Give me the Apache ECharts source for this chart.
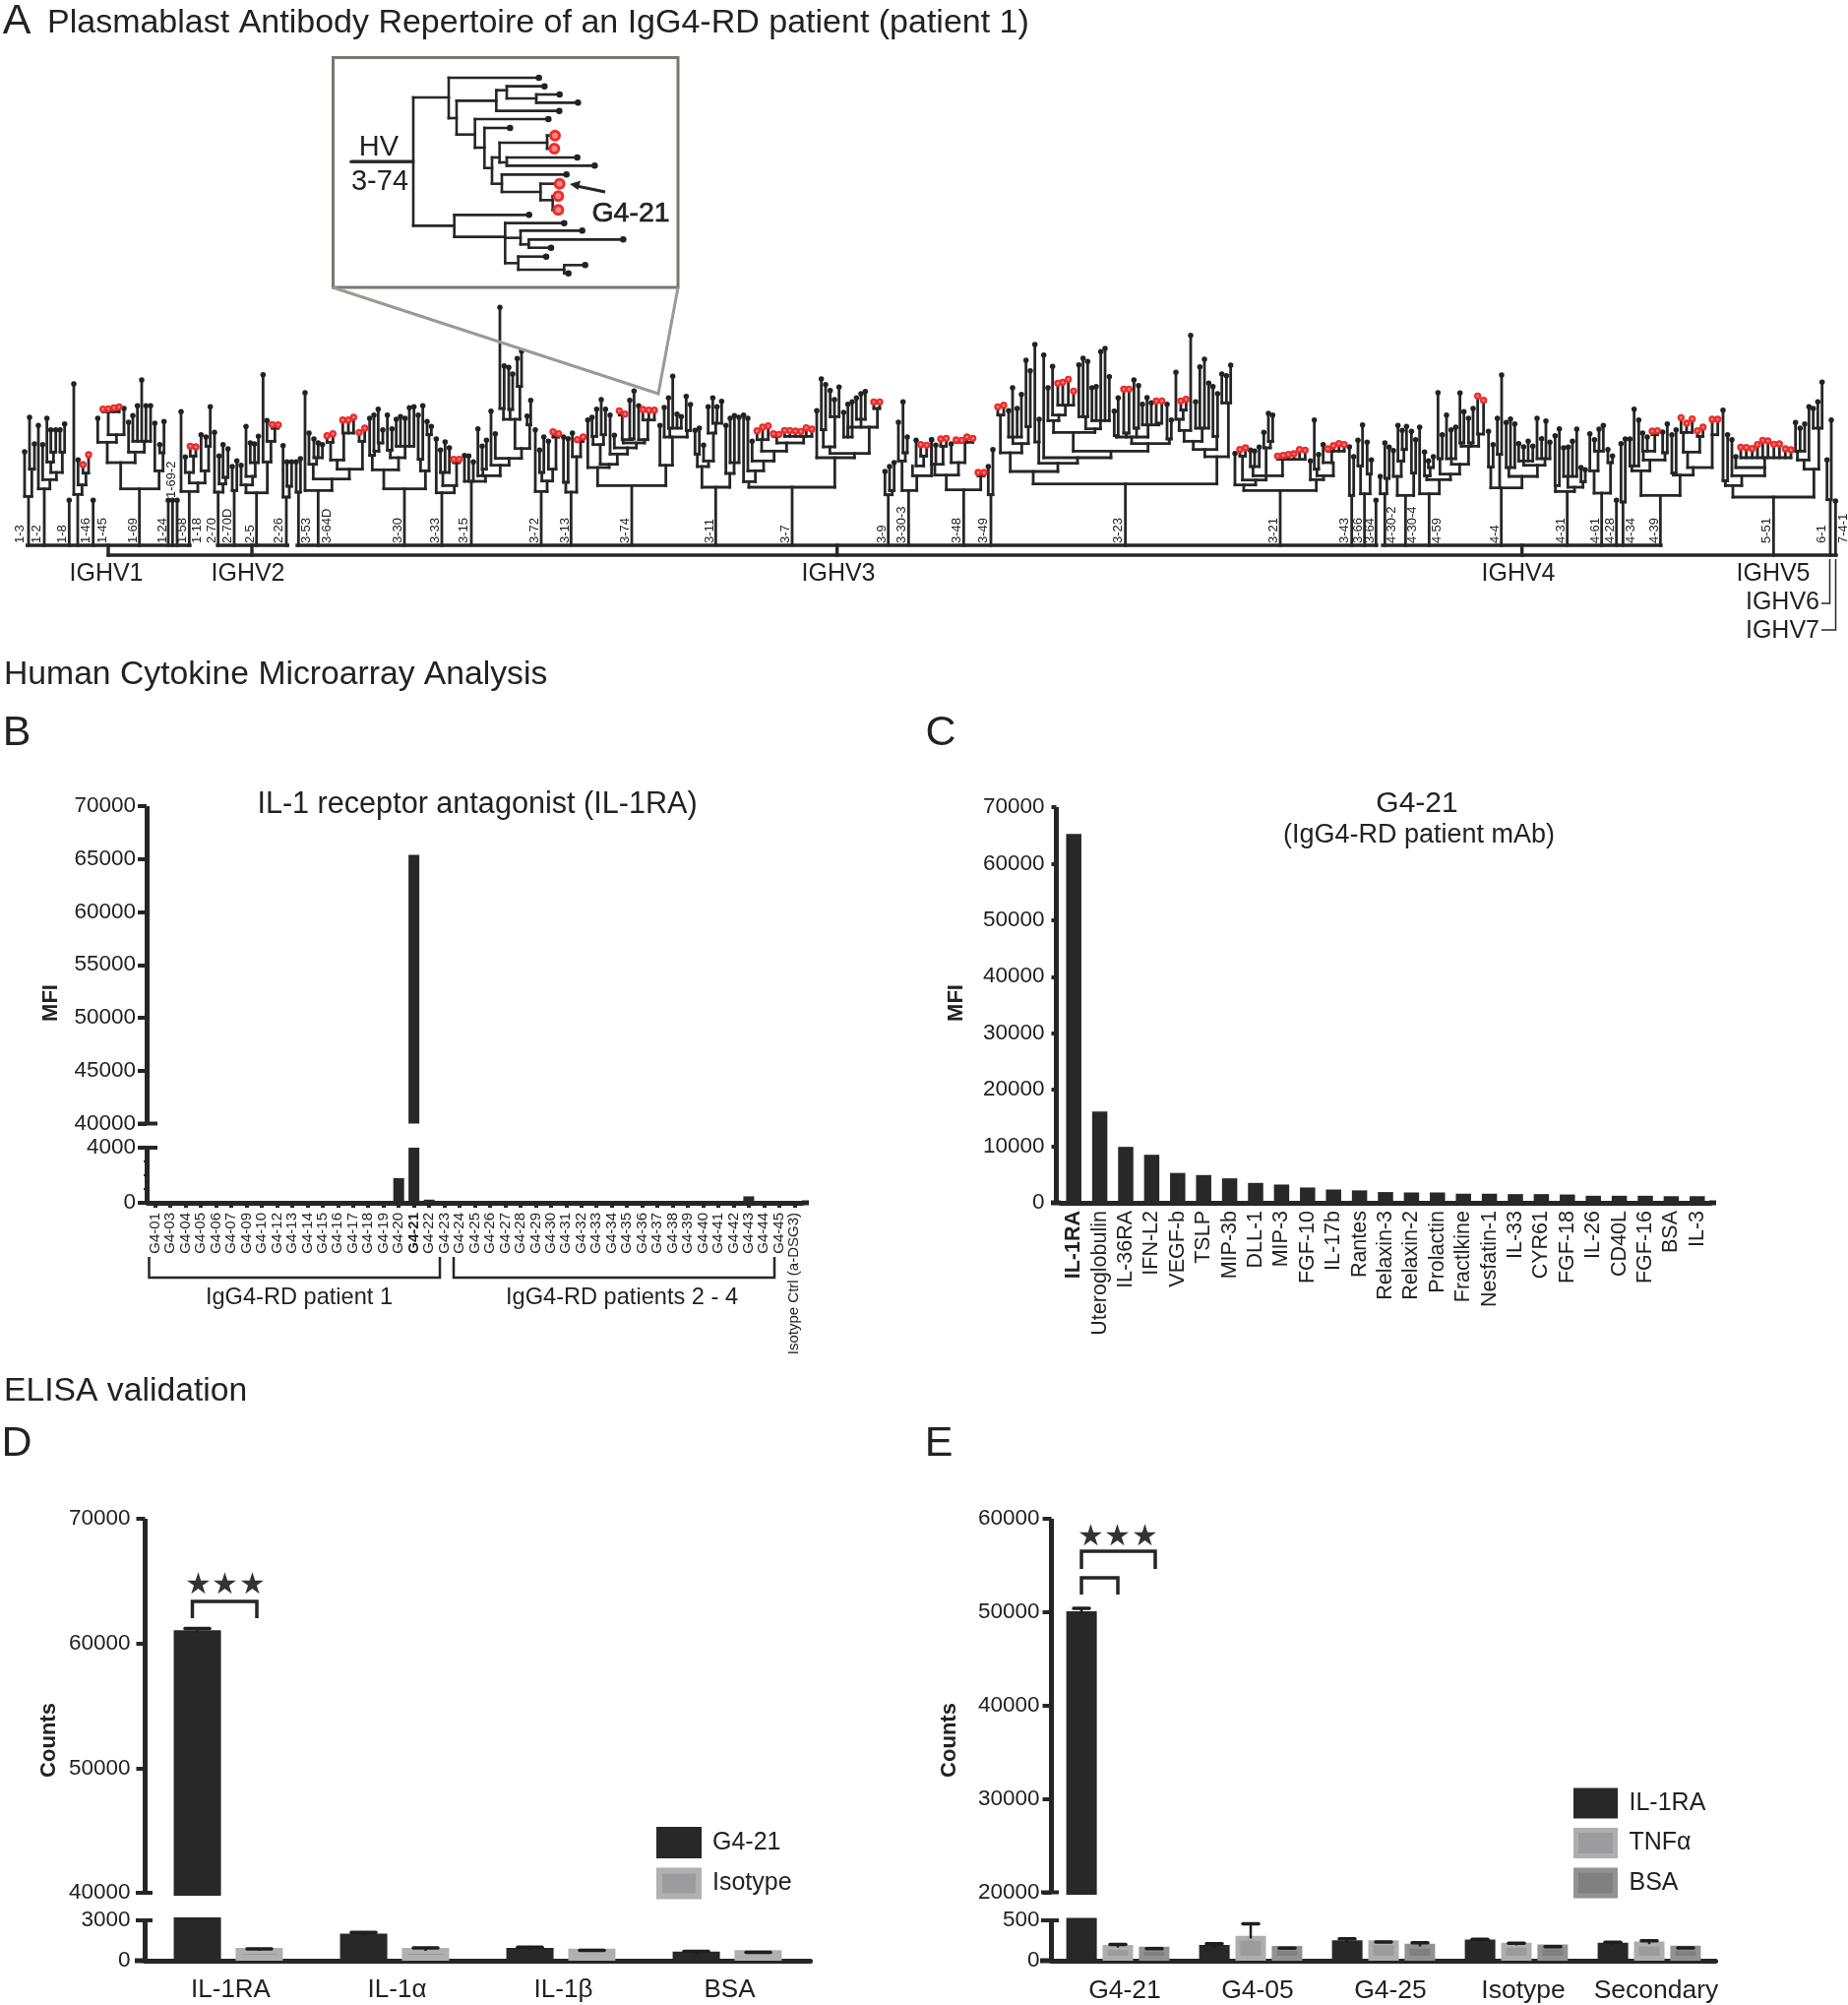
<!DOCTYPE html>
<html><head><meta charset="utf-8">
<style>html,body{margin:0;padding:0;background:#fff}#c{width:1878px;height:2037px}</style>
<script src="https://cdn.jsdelivr.net/npm/echarts@6/dist/echarts.min.js"></script>
</head><body><div id="c"></div>
<script>
// ---------- Panel A: repertoire tree, node = [position, depth, ...children]; leaf third value 1 = red clone
const genes1 = [
['1-3',62,553,[87,403,[75,267],[97,320,[90,162],[105,243]]]],
['1-2',113,553,[135,380,[117,187],[152,352,[130,245],[172,330,[155,298,[143,165],[163,268,[155,200],[170,200]]],[190,268,[183,200],[197,182]]]]]],
['1-8',190,553,[211,415]],
['1-46',262,553,[237,397,[225,60],[250,368,[238,292],[262,332,[253,306,1],[270,276,1]]]]],
['1-45',312,553,[284,415]],
['1-69',405,553,[425,380,[368,300,[327,238,[298,165],[355,215,[330,145,[314,137,1],[330,136,1],[347,133,1],[363,130,1]],[378,135]]],[412,268,[392,177],[440,235,[405,157],[419,127],[432,48],[445,127],[459,127]]]],[485,325,[472,180],[497,270,[487,245],[500,175]]]]],
['1-24',495,553,[513,415]],
['1-69-2',523,553,[526,415]],
['1-58',555,553,[540,415]],
['1-18',600,553,[577,388,[552,145],[603,362,[577,330,[565,283],[590,280,[580,250,1],[597,252,1]]],[625,325,[613,215],[636,250,[628,222],[641,130]]]]]],
['2-70',647,553,[665,390,[654,208],[680,365,[668,280],[688,345,[680,245],[695,258]]]]],
['2-70D',693,553,[714,385,[708,312],[722,295]]],
['2-5',762,553,[782,392,[750,368,[735,308],[770,342,[750,190],[778,300,[763,240],[776,243],[788,220]]]],[815,298,[802,32],[826,235,[814,172],[838,195,[830,184,1],[848,185,1]]]]]],
['2-26',850,553,[873,405,[863,248],[882,372,[875,298],[889,298]]]],
['3-53',935,553,[910,390,[903,298],[916,288]]],
['3-64D',997,553,[970,385,[930,87],[1012,350,[955,305,[942,210],[965,285,[957,228],[970,240],[983,245]]],[1065,320,[1028,292,[1008,238,[997,218,1],[1015,212,1]],[1048,210,[1045,170,1],[1062,170,1],[1078,162,1]]],[1105,235,[1095,208,1],[1112,195,1]]]]]],
['3-30',1212,553,[1233,380,[1170,322,[1135,278,[1127,165],[1142,265,[1140,155],[1155,240,[1153,137],[1167,200]]]],[1215,285,[1190,262,[1181,155],[1195,197]],[1235,250,[1208,168],[1221,160],[1235,165],[1248,133],[1262,130]]]],[1297,325,[1282,290,[1275,155],[1289,127]],[1308,215,[1302,175],[1315,190]]]]],
['3-33',1327,553,[1347,392,[1330,228],[1385,370,[1350,330,[1343,262],[1357,237],[1370,255]],[1392,300,[1383,290,1],[1400,290,1]]]]]
];
const genes2 = [
['3-15',5,762,[27,567,[6,488],[19,490],[33,508],[70,550,[47,407],[62,530,[60,460],[73,442]],[115,518,[87,353],[142,497,[100,422],[180,467,[160,378,[125,345,[114,37],[127,215]],[145,348,[141,220],[153,240]],[175,278,[167,193],[180,170]]],[205,395,[197,368],[208,320]]]]]]]],
['3-72',220,762,[240,598,[222,410],[258,566,[242,540,[235,472],[248,432]],[275,530,[262,445],[285,432,[276,416,1],[293,422,1]]]]]],
['3-13',312,762,[331,600,[315,570,[308,432],[322,437]],[348,492,[335,420],[360,445,[350,440,1],[368,432,1]]]]],
['3-74',496,762,[516,580,[412,525,[382,380],[447,515,[420,455,[398,430,[395,372],[409,347]],[430,425,[423,318],[436,347]]],[472,484,[450,365],[503,465,[463,427],[530,450,[490,440,[487,365,[478,352,1],[495,362,1]],[517,438,[510,320],[523,292]]],[555,440,[537,337],[565,380,[550,348,1],[568,350,1],[585,350,1]]]]]]]],[620,518,[602,397],[640,432,[615,342],[632,405,[628,313],[641,247],[654,362],[667,370]],[685,412,[682,308],[695,333]]]]]],
['3-11',753,762,[772,585,[730,522,[716,484,[709,412],[722,405]],[750,505,[735,457],[765,420,[749,340],[772,390,[763,313],[776,340],[790,323]]]]],[815,543,[803,397],[828,510,[816,375],[829,367],[843,372]]]]],
['3-7',985,762,[1005,585,[873,568,[857,365],[893,535,[870,375],[918,505,[883,445],[950,475,[912,440,[898,413,1],[915,402,1],[932,398,1]],[988,450,[958,430,[948,422,1],[965,424,1]],[1040,430,[982,412,1],[998,412,1],[1015,414,1],[1032,415,1],[1048,404,1],[1065,408,1]]]]]]],[1135,495,[1080,352],[1195,482,[1120,462,[1100,410,[1094,255],[1107,272]],[1135,370,[1121,290],[1134,318],[1148,280]]],[1240,402,[1175,432,[1162,357],[1175,332],[1188,325]],[1215,378,[1201,313],[1215,300],[1228,293]],[1265,345,[1254,325,1],[1272,325,1]]]]]]],
['3-9',1278,762,[1298,608,[1288,537],[1310,595,[1302,522],[1316,510]]]],
['3-30-3',1340,762,[1360,595,[1340,505,[1329,387],[1350,480,[1343,325],[1356,432]]],[1385,550,[1372,520,[1383,442],[1406,490,[1397,455,1],[1415,457,1]]],[1430,440]]]]
];
const genes3 = [
['3-48',97,703,[118,533,[65,488,[30,455,[20,380],[33,397],[55,400,[48,378,1],[65,376,1]]],[102,450,[80,393],[122,388,[95,381,1],[112,382,1],[128,372,1],[146,376,1]]]],[170,490,[162,480,1],[180,480,1]]]],
['3-49',178,703,[201,548,[193,462],[207,410]]],
['3-23',590,703,[611,515,[330,477,[260,420,[230,305,[222,280,1],[240,275,1]],[295,392,[268,372,[255,292],[267,222],[281,285],[294,242]],[315,340,[308,138],[321,170]]]],[405,452,[347,387,[335,90],[348,318]],[465,435,[362,122],[567,415,[452,358,[392,322,[375,222],[408,305,[389,157],[428,275,[405,208,1],[420,205,1],[437,196,1],[453,232,1]]]],[518,347,[490,310,[469,152],[482,132],[496,142]],[535,322,[509,222],[522,218],[536,112],[549,102],[562,188]]]],[680,392,[630,372,[584,368,[577,293],[589,253]],[614,360,[606,226,1],[622,226,1]],[645,345,[637,198],[651,215]],[680,335,[663,272],[677,252],[690,268],[713,330,[705,262,1],[722,262,1]]]],[745,378,[738,272],[751,320]]]]]]],[890,432,[853,410,[818,385,[790,352,[775,318,[765,175],[787,290,[780,262,1],[796,257,1]]],[810,62]],[845,345,[825,265],[838,158],[852,135],[865,208]]],[890,370,[878,218],[892,240]]],[925,268,[905,180],[919,185],[932,153]]]]],
['3-21',1063,703,[1083,535,[972,518,[945,422],[1008,503,[968,430,[960,410,1],[977,405,1]],[1040,490,[1000,462,[992,412],[1005,415],[1019,403]],[1040,405,[1033,358],[1053,385,[1047,300],[1060,305]]],[1090,440,[1075,430,1],[1092,428,1],[1108,425,1],[1125,423,1],[1142,410,1],[1159,412,1]]]]],[1193,502,[1175,445],[1215,490,[1195,470,[1187,320],[1200,425]],[1245,450,[1214,395],[1240,415,[1228,408,1],[1245,398,1],[1262,392,1],[1278,395,1]]]]]]],
['3-43',1280,703,[1301,550,[1294,402],[1307,432]]],
['3-66',1320,703,[1340,545,[1328,460,[1320,382],[1334,335]],[1357,485,[1348,388],[1361,442]]]],
['3-64',1357,703,[1375,565]]
];
const genes4 = [
['4-30-2',42,583,[22,425,[8,372],[28,378,[22,270],[35,283]]]],
['4-30-4',107,583,[85,430,[60,372,[48,293],[72,325,[62,217],[80,290,[75,232],[88,220]]]],[110,362,[103,235],[116,260]]]],
['4-59',180,583,[157,425,[128,222],[188,382,[150,370,[143,298],[160,345,[155,325],[170,312]]],[222,365,[190,318,[184,117],[197,245]],[250,335,[225,318,[210,185],[224,230],[238,222]],[277,280,[255,270,[251,118],[263,175]],[285,270,[277,195],[291,165]],[308,243,[305,127,1],[323,140,1]]]]]]]],
['4-4',358,583,[377,407,[345,343,[338,235],[352,275]],[372,305,[365,195],[378,63]],[440,372,[400,345,[392,208],[405,197],[418,212]],[487,338,[445,325,[430,272],[445,282],[459,265],[473,280]],[510,318,[486,195],[500,257],[513,203],[525,268]]]]]],
['4-31',560,583,[578,418,[542,400,[541,248],[554,227]],[600,405,[580,372,[567,285],[581,283],[594,265],[607,228]],[626,388,[620,345],[633,352]]]]],
['4-61',665,583,[683,423,[660,355,[647,242],[672,295,[661,260],[675,228],[688,217]]],[710,330,[702,290],[716,310]]]],
['4-28',710,583,[728,445]],
['4-34',772,583,[748,450,[742,272],[755,258]]],
['4-39',845,583,[862,430,[803,355,[775,340,[769,258],[782,167],[796,200]],[830,322,[810,295,[808,240],[822,252],[845,245,[837,234,1],[853,233,1]]],[876,300,[869,237],[883,212]]]],[922,368,[902,362,[897,245],[910,230]],[962,345,[945,298,[932,238,[925,193,1],[942,210,1],[959,197,1]],[982,250,[975,233,1],[992,222,1]]],[1020,245,[1020,198,1],[1037,198,1]]]]]],
['5-51',1187,613,[1207,435,[1083,400,[1060,385,[1053,170],[1067,245]],[1110,370,[1080,260],[1180,345,[1092,312],[1180,315,[1107,283,1],[1124,284,1],[1142,287,1],[1158,275,1],[1174,262,1],[1190,264,1],[1208,274,1],[1225,273,1],[1243,288,1],[1260,291,1]]]]],[1330,350,[1300,322,[1280,295,[1274,208],[1288,225],[1302,212]],[1315,160]],[1345,225,[1328,165],[1342,145],[1355,85]]]]],
['6-1',1355,613,[1380,443,[1370,322],[1383,200]]],
['7-4-1',1420,613,[1396,447]]
];
const labelLift = {'1-69-2':46};
// inset clade HV3-74: [row, depth, ...children]
const insetRoot = [343,270,
 [147,378,[87,653],[210,402,[157,523,[125,555,[113,670],[150,645,[138,716],[163,772]]],[188,715]],[260,458,[213,682],[300,487,[240,565],[362,510,[330,533,[285,678,[263,702,1],[303,700,1]],[345,555,[330,770],[355,823]]],[410,540,[382,737],[435,658,[410,716,1],[460,695,[448,712,1],[490,712,1]]]]]]]]],
 [538,395,[505,623],[572,550,[530,730],[575,597,[553,785],[595,622,[580,910],[605,690]]],[652,590,[632,675],[672,730,[658,794],[683,743]]]]]];
const trunks = [[27.7,554,193,554],[110,554,110,564],[221,554,292.3,554],[256,554,256,564],[302,554,1399,554],[850.7,554,850.7,564],[1405,554,1688,554],[1546.7,554,1546.7,564],[110,564,1866,564]];
// ---------- Panel B
const catsB = ['G4-01','G4-03','G4-04','G4-05','G4-06','G4-07','G4-09','G4-10','G4-12','G4-13','G4-14','G4-15','G4-16','G4-17','G4-18','G4-19','G4-20','G4-21','G4-22','G4-23','G4-24','G4-25','G4-26','G4-27','G4-28','G4-29','G4-30','G4-31','G4-32','G4-33','G4-34','G4-35','G4-36','G4-37','G4-38','G4-39','G4-40','G4-41','G4-42','G4-43','G4-44','G4-45','Isotype Ctrl (a-DSG3)'];
const mfiB = [20,20,20,20,20,20,20,20,20,20,20,20,20,20,20,20,1790,65400,230,30,20,20,20,20,20,20,20,20,70,20,20,20,20,20,30,20,20,70,20,470,20,20,20];
// ---------- Panel C
const catsC = ['IL-1RA','Uteroglobulin','IL-36RA','IFN-L2','VEGF-b','TSLP','MIP-3b','DLL-1','MIP-3','FGF-10','IL-17b','Rantes','Relaxin-3','Relaxin-2','Prolactin','Fractlkine','Nesfatin-1','IL-33','CYR61','FGF-18','IL-26','CD40L','FGF-16','BSA','IL-3'];
const mfiC = [65240,16130,9900,8500,5280,4910,4330,3520,3230,2710,2350,2200,1900,1830,1830,1610,1610,1540,1540,1470,1250,1250,1250,1170,1170];
// ---------- Panel D: bar tops, error-bar base, error-bar cap
const catsD = ['IL-1RA','IL-1α','IL-1β','BSA'];
const dG421 = [61060,2020,950,670];
const dG421Base = [60840,1790,730,450];
const dG421Err = [61200,2100,1000,700];
const dIso = [950,950,900,785];
const dIsoBase = [730,730,670,560];
const dIsoErr = [870,950,760,620];
// ---------- Panel E
const catsE = ['G4-21','G4-05','G4-25','Isotype','Secondary'];
const eIL = [50100,196,252,261,224];
const eILBase = [49800,163,220,229,191];
const eILErr = [50400,210,270,266,229];
const eTNF = [196,308,252,224,238];
const eTNFBase = [163,275,220,191,205];
const eTNFErr = [200,458,233,215,247];
const eBSA = [173,182,210,200,187];
const eBSABase = [140,150,177,168,154];
const eBSAErr = [150,154,224,175,159];

const F='Liberation Sans', INK='#262626';
// tree walk
function walk(n,parent,pt,out){
  const kids=n.slice(2).filter(Array.isArray), red=n[2]===1;
  const A=pt(n[0],parent),B=pt(n[0],n[1]);
  out.segs.push([A[0],A[1],B[0],B[1]]);
  if(kids.length){
    const p=kids.map(k=>k[0]),a=pt(Math.min(...p),n[1]),b=pt(Math.max(...p),n[1]);
    out.segs.push([a[0],a[1],b[0],b[1]]);
    kids.forEach(k=>walk(k,n[1],pt,out));
  } else (red?out.reds:out.tips).push(B);
}
const mainOut={segs:[],tips:[],reds:[]};
const geneLabels=[];
[[genes1,0,370],[genes2,470,300],[genes3,940,320],[genes4,1400,360]].forEach(([list,ox,oy])=>{
  const pt=(x,y)=>[ox+x/3,oy+y/3];
  list.forEach(g=>{
    walk(g[3],g[2],pt,mainOut);
    geneLabels.push([ox+g[1]/3,552-(labelLift[g[0]]||0),g[0]]);
  });
});
const insetOut={segs:[],tips:[],reds:[]};
walk(insetRoot,80,(r,d)=>[330+d/3,50+r/3],insetOut);

const axC='#262626';
function segSeries(data,w,z){return {type:'custom',xAxisIndex:0,yAxisIndex:0,silent:true,z:z||3,data:data,
  renderItem:(p,api)=>{const a=api.coord([api.value(0),api.value(1)]),b=api.coord([api.value(2),api.value(3)]);
   return {type:'line',shape:{x1:a[0],y1:a[1],x2:b[0],y2:b[1]},style:{stroke:INK,lineWidth:w,lineCap:'square'}};}};}
function dots(data,size,red,bw,z){return {type:'scatter',xAxisIndex:0,yAxisIndex:0,silent:true,z:z||4,data:data,symbolSize:size,
  itemStyle:red?{color:'#f58a80',borderColor:'#ee2c2c',borderWidth:bw,opacity:1}:{color:'#222',opacity:1}};}
const textSeries={type:'custom',xAxisIndex:0,yAxisIndex:0,silent:true,z:5,data:geneLabels,
  renderItem:(p,api)=>{const c=api.coord([api.value(0),api.value(1)]);
   return {type:'text',x:c[0],y:c[1],rotation:Math.PI/2,style:{text:geneLabels[p.dataIndex][2],fontSize:13,fontFamily:F,fill:'#222',align:'left',verticalAlign:'middle'}};}};

const plain=v=>String(v);
const yLab=m=>({fontFamily:F,fontSize:22.5,color:'#222',margin:m,padding:[6,0,0,0],formatter:plain,showMinLabel:true,showMaxLabel:true});
function yAx(g,min,max,int,opt){return Object.assign({type:'value',gridIndex:g,min,max,interval:int,splitLine:{show:false},
  axisLine:{show:true,onZero:false,lineStyle:{color:axC,width:5,cap:'butt'}},axisTick:{show:true,length:9,lineStyle:{color:axC,width:4}},
  axisLabel:yLab(11)},opt||{});}
function xAx(g,cats,opt){return Object.assign({type:'category',gridIndex:g,data:cats,axisLine:{show:true,lineStyle:{color:axC,width:5}},axisTick:{show:false},axisLabel:{interval:0,fontFamily:F,color:'#222'}},opt||{});}
const hiddenX=(g,c)=>({type:'category',gridIndex:g,data:c,show:false});
function bar(name,g,data,w,style,gap){return {type:'bar',name,xAxisIndex:g,yAxisIndex:g,data,barWidth:w,barGap:gap,itemStyle:style,silent:true,clip:true,z:2};}
function err(g,means,errs,off,capW){return {type:'custom',xAxisIndex:g,yAxisIndex:g,silent:true,z:3,data:means.map((m,i)=>[i,m,errs[i]]),
  renderItem:(p,api)=>{const cs=p.coordSys,v0=api.coord([api.value(0),api.value(1)]),v1=api.coord([api.value(0),api.value(2)]);
    if(v1[1]<cs.y||v1[1]>cs.y+cs.height)return null;
    const x=v0[0]+off;
    return {type:'group',children:[{type:'line',shape:{x1:x,y1:Math.min(v0[1],cs.y+cs.height),x2:x,y2:v1[1]},style:{stroke:'#1e1e1e',lineWidth:2.5}},
     {type:'line',shape:{x1:x-capW/2,y1:v1[1],x2:x+capW/2,y2:v1[1]},style:{stroke:'#1e1e1e',lineWidth:3.5,lineCap:'round'}}]};}};}

const dark={color:'#282828'};
const dDark={color:'#282828',borderColor:'#282828',borderWidth:6}, dIsoS={color:'#9c9c9e',borderColor:'#b0b0b0',borderWidth:6};
const eDark={color:'#282828',borderColor:'#282828',borderWidth:5}, eTnfS={color:'#9c9c9e',borderColor:'#aeaeae',borderWidth:5}, eBsaS={color:'#808080',borderColor:'#929292',borderWidth:5};

// non-data furniture
const g=[];
const T=(t,x,y,s,o)=>g.push({type:'text',x:x+((o&&o.rot)?2:0),y:y+((o&&o.rot)?0:2.5),z:20,silent:true,rotation:(o&&o.rot)||0,style:{text:t,fontSize:s,fontFamily:F,fill:(o&&o.fill)||'#222',fontWeight:(o&&o.w)||'normal',align:(o&&o.a)||'center',verticalAlign:'middle',stroke:(o&&o.sw)?'#222':null,lineWidth:(o&&o.sw)||0}});
const L=(pts,w,c,z)=>g.push({type:'polyline',z:z||10,silent:true,shape:{points:pts},style:{stroke:c||INK,lineWidth:w,fill:null,lineJoin:'miter'}});
T('A',17,20,43);T('B',17,743,43);T('C',956,743,43);T('D',17,1465,43);T('E',954,1465,43);
T('Plasmablast Antibody Repertoire of an IgG4-RD patient (patient 1)',48,21,34,{a:'left'});
T('Human Cytokine Microarray Analysis',4,683,33.7,{a:'left'});
T('ELISA validation',4,1411,33.7,{a:'left'});
// inset
g.push({type:'rect',z:9,silent:true,shape:{x:338.5,y:58.5,width:350.5,height:233.5},style:{stroke:'#78786f',lineWidth:3,fill:null}});
L([[338,292],[669,400],[689,292]],3,'#999995',12);
T('HV',385,147,29);L([[357,164],[420,164]],2.8);T('3-74',386,182,29);
T('G4-21',641,215,28.5,{sw:0.7});
L([[615,195],[586,189]],3);
g.push({type:'polygon',z:12,silent:true,shape:{points:[[579,187],[590,183.5],[587.5,193]]},style:{fill:INK}});
// IGHV
T('IGHV1',108,581,25);T('IGHV2',252,581,25);T('IGHV3',852,581,25);T('IGHV4',1543,581,25);T('IGHV5',1802,581,25);
T('IGHV6',1849,610,25,{a:'right'});T('IGHV7',1849,639,25,{a:'right'});
L([[1859.5,568],[1859.5,613],[1851,613]],1.5);L([[1865.5,568],[1865.5,640],[1851,640]],1.5);
// B
T('IL-1 receptor antagonist (IL-1RA)',485,815,30.6);T('MFI',50,1019,22,{w:'bold',rot:Math.PI/2});
L([[140,1141.5],[160,1141.5]],4);L([[140,1166],[160,1166]],4);L([[815,1222],[822,1222]],5);
L([[151.5,1277],[151.5,1298],[447,1298],[447,1277]],2.5);L([[461,1277],[461,1298],[787,1298],[787,1277]],2.5);
T('IgG4-RD patient 1',304,1316,23.6);T('IgG4-RD patients 2 - 4',632,1316,23.6);
// C
T('G4-21',1440,814.5,30);T('(IgG4-RD patient mAb)',1442,846.5,27);T('MFI',970,1019,22,{w:'bold',rot:Math.PI/2});
L([[1068,1222],[1078,1222]],5);L([[1737,1222],[1744,1222]],5);
// D
T('Counts',48,1768,22,{w:'bold',rot:Math.PI/2});
L([[138,1923],[155,1923]],4);L([[138,1951],[155,1951]],4);L([[137,1992],[148,1992]],5);
L([[195.5,1644],[195.5,1627],[261,1627],[261,1644]],3.5);
[201,228,256].forEach(x=>T('★',x,1608,30,{fill:'#333'}));
// E
T('Counts',963,1768,22,{w:'bold',rot:Math.PI/2});
L([[1058,1922.5],[1076,1922.5]],4);L([[1058,1951],[1076,1951]],4);L([[1057,1992],[1069,1992]],5);
L([[1099,1594],[1099,1576],[1174,1576],[1174,1594]],3.5);L([[1099,1620],[1099,1603],[1136,1603],[1136,1620]],3.5);
[1108,1135,1163].forEach(x=>T('★',x,1559,30,{fill:'#333'}));

const grids=[
 {left:0,top:0,width:1878,height:2037},
 {left:150,top:819,width:665,height:322.5},{left:150,top:1166,width:665,height:56},
 {left:1078,top:820,width:660,height:402},
 {left:147.5,top:1543,width:676,height:380},{left:147.5,top:1951,width:676,height:41},
 {left:1068.5,top:1543,width:675,height:379.5},{left:1068.5,top:1951,width:675,height:41}
];
const catBFmt=catsB.map(c=>c==='G4-21'?{value:c,textStyle:{fontWeight:'bold'}}:c);
const catCFmt=catsC.map(c=>c==='IL-1RA'?{value:c,textStyle:{fontWeight:'bold'}}:c);
const xAxes=[
 {type:'value',gridIndex:0,min:0,max:1878,show:false},
 hiddenX(1,catsB),
 xAx(2,catBFmt,{axisTick:{show:true,alignWithLabel:true,length:5,lineStyle:{color:axC,width:4}},axisLabel:{interval:0,rotate:90,fontSize:15,margin:10,fontFamily:F,color:'#222'}}),
 xAx(3,catCFmt,{axisLabel:{interval:0,rotate:90,fontSize:21.5,margin:8,fontFamily:F,color:'#222'}}),
 hiddenX(4,catsD),
 xAx(5,catsD,{axisLabel:{interval:0,fontSize:26,margin:17,padding:[0,0,0,5],fontFamily:F,color:'#222'}}),
 hiddenX(6,catsE),
 xAx(7,catsE,{axisLabel:{interval:0,fontSize:26.5,margin:17,padding:[0,0,0,14],fontFamily:F,color:'#222'}})
];
const yAxes=[
 {type:'value',gridIndex:0,min:0,max:2037,inverse:true,show:false},
 yAx(1,40000,70000,5000,{offset:1}),
 yAx(2,0,4000,4000,{offset:1,minorTick:{show:true,splitNumber:4,length:3,lineStyle:{color:axC,width:2}}}),
 yAx(3,0,70000,10000,{offset:4.5,axisTick:{show:true,length:5,lineStyle:{color:axC,width:4}},axisLabel:yLab(12)}),
 yAx(4,40000,70000,10000,{axisLabel:yLab(15)}),yAx(5,0,3000,3000,{axisLabel:yLab(15)}),
 yAx(6,20000,60000,10000,{axisLabel:yLab(12)}),yAx(7,0,500,500,{axisLabel:yLab(12)})
];
const series=[
 segSeries(mainOut.segs,2.8),segSeries(trunks,3.4),segSeries(insetOut.segs,2.6),
 dots(mainOut.tips,5.5,false),dots(mainOut.reds,5,true,2.4),dots(insetOut.tips,6.5,false),dots(insetOut.reds,9,true,3),textSeries,
 bar('MFI',1,mfiB,11,dark),bar('MFI',2,mfiB,11,dark),
 bar('MFI C',3,mfiC,15.5,dark),
 bar('G4-21',4,dG421,48,dDark,'31%'),bar('Isotype',4,dIso,48,dIsoS,'31%'),
 bar('G4-21',5,dG421,48,dDark,'31%'),bar('Isotype',5,dIso,48,dIsoS,'31%'),
 err(4,dG421Base,dG421Err,-31.5,25),err(4,dIsoBase,dIsoErr,31.5,25),err(5,dG421Base,dG421Err,-31.5,25),err(5,dIsoBase,dIsoErr,31.5,25),
 bar('IL-1RA',6,eIL,31,eDark,'19%'),bar('TNFα',6,eTNF,31,eTnfS,'19%'),bar('BSA',6,eBSA,31,eBsaS,'19%'),
 bar('IL-1RA',7,eIL,31,eDark,'19%'),bar('TNFα',7,eTNF,31,eTnfS,'19%'),bar('BSA',7,eBSA,31,eBsaS,'19%'),
 err(6,eILBase,eILErr,-37,16),err(6,eTNFBase,eTNFErr,0,16),err(6,eBSABase,eBSAErr,37,16),
 err(7,eILBase,eILErr,-37,16),err(7,eTNFBase,eTNFErr,0,16),err(7,eBSABase,eBSAErr,37,16)
];
const legendText=s=>({fontFamily:F,fontSize:25,color:'#222',padding:[0,0,0,9]});
const legends=[
 {orient:'vertical',left:667,top:1856,padding:0,icon:'rect',itemWidth:40,itemHeight:26,itemGap:9.5,selectedMode:false,textStyle:legendText(),
  data:[{name:'G4-21',itemStyle:dDark},{name:'Isotype',itemStyle:dIsoS}]},
 {orient:'vertical',left:1599,top:1816.5,padding:0,icon:'rect',itemWidth:40,itemHeight:26,itemGap:9.5,selectedMode:false,textStyle:legendText(),
  data:[{name:'IL-1RA',itemStyle:eDark},{name:'TNFα',itemStyle:eTnfS},{name:'BSA',itemStyle:eBsaS}]}
];
const chart=echarts.init(document.getElementById('c'),null,{renderer:'canvas'});
chart.setOption({animation:false,backgroundColor:'#fff',textStyle:{fontFamily:F},grid:grids,xAxis:xAxes,yAxis:yAxes,series,legend:legends,graphic:g,tooltip:{show:false}});
</script></body></html>
